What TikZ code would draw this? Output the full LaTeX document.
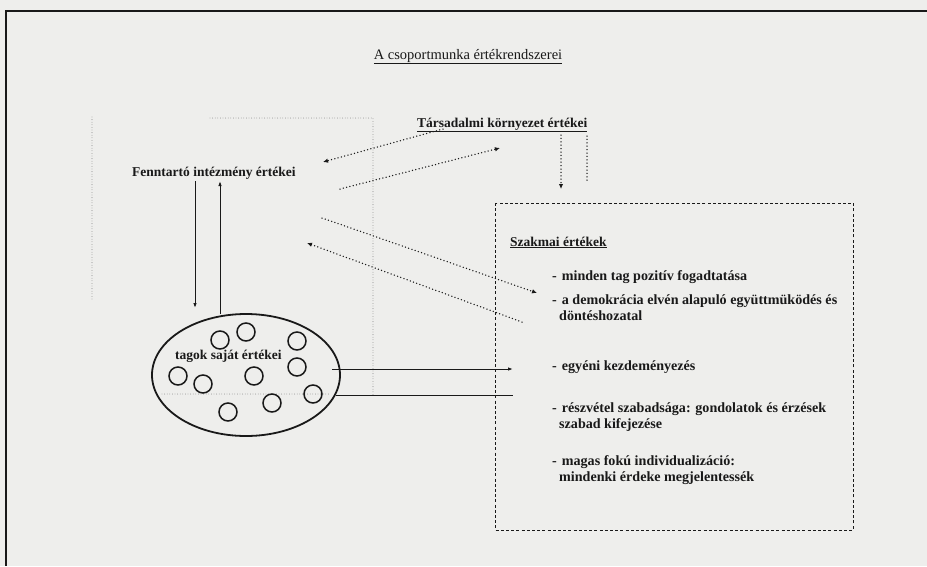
\documentclass[tikz,border=0pt]{standalone}
\usepackage{fontspec}
\setmainfont{Liberation Serif}
\usetikzlibrary{arrows.meta,shapes.geometric}
\definecolor{paper}{RGB}{238,238,236}
\definecolor{ink}{RGB}{25,25,25}
\definecolor{faint}{RGB}{110,110,110}
\begin{document}
\begin{tikzpicture}[x=1pt,y=-1pt,
  lbl/.style={font=\bfseries\fontsize{13.5}{16}\selectfont, inner sep=0pt, text=ink},
  itm/.style={font=\bfseries\fontsize{14.1}{16}\selectfont, inner sep=0pt, text=ink, anchor=base west, align=left},
  ttl/.style={font=\fontsize{14.5}{17}\selectfont, inner sep=0pt, text=ink},
  dotarrow/.style={draw=ink, line width=1.5pt, dash pattern=on 0pt off 3.4pt, line cap=round, -{Latex[length=5pt,width=4.5pt]}},
  dotline/.style={draw=ink, line width=1.5pt, dash pattern=on 0pt off 3.4pt, line cap=round},
  faintline/.style={draw=faint, line width=0.8pt, dash pattern=on 0pt off 2.6pt, line cap=round},
  solidarrow/.style={draw=ink, line width=1pt, -{Latex[length=5pt,width=3.5pt]}},
  boxline/.style={draw=ink, line width=1pt, dash pattern=on 3pt off 2.2pt},
  member/.style={circle, draw=ink, line width=1.5pt, minimum size=18pt, inner sep=0pt},
]
% paper and frame
\fill[paper] (0,0) rectangle (927,566);
\useasboundingbox (0,0) rectangle (927,566);
\draw[ink, line width=1.6pt] (927,11) -- (6,11) -- (6,566);

% title
\node[ttl, anchor=base] (title) at (468,59) {\underline{A csoportmunka értékrendszerei}};

% faint institution boundary
\coordinate (r1) at (92,117);
\coordinate (r2) at (92,300);
\coordinate (r3) at (210,118);
\coordinate (r4) at (373,118);
\coordinate (r5) at (373,395);
\coordinate (r6) at (162,394);
\coordinate (r7) at (330,394);
\draw[faintline] (r1) -- (r2);
\draw[faintline] (r3) -- (r4) -- (r5);
\draw[faintline] (r6) -- (r7);

% labels
\node[lbl, anchor=base west] (tars) at (417,127) {\underline{Társadalmi környezet értékei}};
\node[lbl, anchor=base west] (fen) at (132,176) {Fenntartó intézmény értékei};

% group of members
\node[ellipse, draw=ink, line width=1.8pt, minimum width=188pt, minimum height=122pt, inner sep=0pt] (grp) at (246,375) {};
\node[lbl, anchor=base west] (tagok) at (175,359) {tagok saját értékei};
\node[member] (c1) at (220,340) {};
\node[member] (c2) at (246,332) {};
\node[member] (c3) at (297,341) {};
\node[member] (c4) at (297,367) {};
\node[member] (c5) at (178,376) {};
\node[member] (c6) at (203,384) {};
\node[member] (c7) at (254,376) {};
\node[member] (c8) at (313,394) {};
\node[member] (c9) at (272,403) {};
\node[member] (c10) at (228,412) {};

% professional values box
\coordinate (b1) at (495,203);
\coordinate (b2) at (853,530);
\draw[boxline] (b1) rectangle (b2);
\node[lbl, anchor=base west] (szak) at (510,246) {\underline{Szakmai értékek}};
\node[itm] (i1) at (552,280) {-\hspace{5pt}minden tag pozitív fogadtatása};
\node[itm] (i2) at (552,320) {-\hspace{5pt}a demokrácia elvén alapuló együttmüködés és\\\hspace*{7pt}döntéshozatal};
\node[itm] (i3) at (552,370) {-\hspace{5pt}egyéni kezdeményezés};
\node[itm] (i4) at (552,428) {-\hspace{5pt}részvétel szabadsága: gondolatok és érzések\\\hspace*{7pt}szabad kifejezése};
\node[itm] (i5) at (552,481) {-\hspace{5pt}magas fokú individualizáció:\\\hspace*{7pt}mindenki érdeke megjelentessék};

% Fenntartó <-> tagok
\coordinate (fa1) at (195,181);
\coordinate (fa2) at (195,308);
\coordinate (fb1) at (220,314);
\coordinate (fb2) at (220,181);
\draw[solidarrow] (fa1) -- (fa2);
\draw[solidarrow] (fb1) -- (fb2);

% Társadalmi <-> Fenntartó
\coordinate (ta1) at (443,129);
\coordinate (ta2) at (323,162);
\coordinate (tb1) at (340,189);
\coordinate (tb2) at (500,148);
\draw[dotarrow] (ta1) -- (ta2);
\draw[dotarrow] (tb1) -- (tb2);

% Fenntartó <-> Szakmai
\coordinate (fs1) at (322,218);
\coordinate (fs2) at (537,293);
\coordinate (fs3) at (522,322);
\coordinate (fs4) at (307,243);
\draw[dotarrow] (fs1) -- (fs2);
\draw[dotarrow] (fs3) -- (fs4);

% Társadalmi <-> Szakmai
\coordinate (ts1) at (561,135);
\coordinate (ts2) at (561,189);
\coordinate (ts3) at (587,136);
\coordinate (ts4) at (587,182);
\draw[dotarrow] (ts1) -- (ts2);
\draw[dotline] (ts3) -- (ts4);

% tagok <-> Szakmai
\coordinate (ga1) at (332,369);
\coordinate (ga2) at (513,369);
\coordinate (gb1) at (336,395);
\coordinate (gb2) at (513,395);
\draw[solidarrow] (ga1) -- (ga2);
\draw[draw=ink, line width=1pt] (gb1) -- (gb2);
\end{tikzpicture}
\end{document}
